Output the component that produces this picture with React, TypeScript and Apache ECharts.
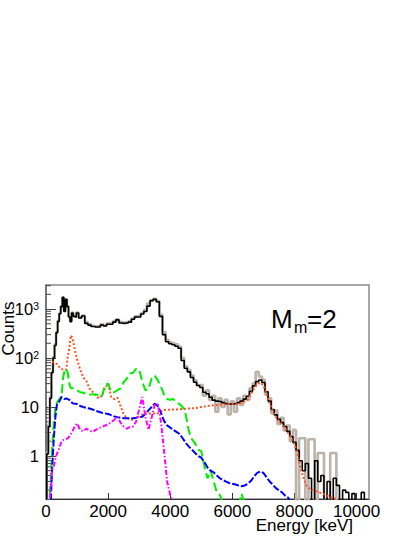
import React, { useEffect, useRef } from "react";
import * as echarts from "echarts";

// Energy bin centres [keV]
const energy = [
  0, 50, 100, 150, 200, 250, 300, 350, 400, 450, 500, 550, 600, 650, 700, 750, 800, 850, 900, 950, 1000,
  1100, 1200, 1300, 1400, 1500, 1600, 1700, 1800, 1900, 2000,
  2100, 2200, 2300, 2400, 2500, 2600, 2700, 2800, 2900, 3000,
  3100, 3200, 3300, 3400, 3500, 3600, 3700, 3800, 3900, 4000,
  4100, 4200, 4300, 4400, 4500, 4600, 4700, 4800, 4900, 5000,
  5100, 5200, 5300, 5400, 5500, 5600, 5700, 5800, 5900, 6000,
  6100, 6200, 6300, 6400, 6500, 6600, 6700, 6800, 6900, 7000,
  7100, 7200, 7300, 7400, 7500, 7600, 7700, 7800, 7900, 8000,
  8100, 8200, 8300, 8400, 8500, 8600, 8700, 8800, 8900, 9000,
  9100, 9200, 9300, 9400, 9500, 9600, 9700, 9800, 9900, 10000,
  10100, 10200, 10300, 10400,
];

// Measured spectrum (grey)
const dataCounts = [
  0.1, 1.2, 4.5, 16, 52, 105, 190, 340, 580, 830, 1150, 1700, 950, 1550, 1150, 720, 580, 850, 740, 700, 850,
  690, 740, 540, 490, 455, 445, 445, 490, 470, 510,
  510, 560, 620, 545, 530, 540, 560, 640, 710, 720,
  820, 960, 1300, 1520, 1620, 1450, 760, 340, 235, 210,
  200, 190, 172, 100, 68, 57, 44, 35, 28, 28,
  17, 22, 14, 17, 8, 15, 10, 14, 7, 13,
  8, 15, 11, 17, 14, 24, 30, 52, 42, 36,
  18, 15, 7.5, 8.5, 4.5, 6, 3.3, 4.2, 2, 3.4,
  0.1, 2.3, 2.3, 0.1, 2.2, 2.2, 0.1, 1.15, 1.15, 0.1,
  0.1, 1.15, 1.15, 0.1, 0.1, 0.1, 0.1, 0.1, 0.1, 0.1,
  0.1, 0.1, 0.1, 0.1,
];

// Total simulated spectrum (black)
const totalSim = [
  0.1, 1.1, 4, 15, 50, 100, 180, 330, 560, 800, 1120, 1740, 890, 1580, 1120, 690, 550, 830, 710, 690, 830,
  660, 720, 510, 470, 440, 430, 430, 470, 450, 490,
  490, 540, 600, 520, 510, 520, 540, 620, 690, 690,
  790, 890, 1150, 1480, 1580, 1410, 710, 300, 215, 195,
  186, 174, 158, 89, 62, 52, 40, 32, 27.5, 25,
  20, 18.6, 15.8, 13.8, 13.2, 12.9, 12.3, 11.7, 11.5, 11.5,
  11.7, 12.3, 13.2, 14.5, 16.6, 21, 27, 33, 35.5, 31.6,
  20.4, 13.2, 8.9, 6.9, 5.6, 4.8, 4.0, 3.2, 2.5, 1.9,
  1.3, 0.8, 0.5, 0.7, 0.35, 0.1, 0.8, 0.3, 0.4, 0.1,
  0.3, 0.1, 0.35, 0.25, 0.1, 0.2, 0.18, 0.1, 0.17, 0.1,
  0.1, 0.18, 0.1, 0.1,
];

// Component 1 (red, dotted)
const compRed = [
  null, null, null, null, 85, 80, 78, 75, 68, 63, 60, 58, 57, 58, 105, 160, 290, 260, 180, 130, 95,
  58, 40, 34, 24, 20.4, 17.4, 15, 17, 24, 30,
  16, 14.5, 15.5, 10.5, 7.2, 5.9, 5.9, 5.4, 6.2, 6.4,
  7, 7.4, 7.4, 7.4, 7.4, 7.4, 8, 8.7, 8.8, 8.8,
  8.9, 8.9, 9, 9.1, 9.2, 9.3, 9.4, 9.5, 9.7, 10,
  10.2, 10.4, 10.6, 10.8, 11, 11.1, 11.3, 11.4, 11.5, 11.6,
  11.7, 11.8, 12, 13, 14.5, 18.5, 24, 29, 31.5, 28,
  18.5, 12, 8, 6.3, 5.1, 4.4, 3.7, 2.9, 2.3, 1.7,
  1.1, 0.55, 0.35, 0.24, 0.21, 0.2, 0.19, 0.18, 0.17, 0.16,
  0.15, 0.14, 0.135, 0.1, 0.1, 0.1, 0.1, 0.1, 0.1, 0.1,
  0.1, 0.1, 0.1, 0.1,
];

// Component 2 (green, long dash)
const compGreen = [
  0.1, 0.1, 0.1, 0.3, 1.5, 4.5, 9, 12, 13.8, 15, 16, 40, 55, 60, 50, 30, 24, 24, 24, 23, 22,
  20, 19.5, 18.5, 18, 18, 18, 17.5, 16.5, 28, 30,
  20, 20, 22, 24, 32, 38, 48, 50, 60, 58,
  33, 22, 23, 38, 44, 35, 26, 18, 14.5, 14,
  14.5, 12.5, 11.5, 10, 7, 3.2, 2.2, 1.8, 1.35, 1.25,
  0.63, 0.35, 0.5, 0.3, 0.18, 0.16, 0.1, 0.1, 0.1, 0.1,
  0.1, 0.1, 0.17, 0.1, 0.1, 0.1, 0.1, 0.1, 0.1, 0.1,
  0.1, 0.1, 0.1, 0.1, 0.1, 0.1, 0.1, 0.1, 0.1, 0.1,
  0.1, 0.1, 0.1, 0.1, 0.1, 0.1, 0.1, 0.1, 0.1, 0.1,
  0.1, 0.1, 0.1, 0.1, 0.1, 0.1, 0.1, 0.1, 0.1, 0.1,
  0.1, 0.1, 0.1, 0.1,
];

// Component 3 (blue, dashed)
const compBlue = [
  0.1, 0.1, 0.1, 0.1, 0.6, 2.2, 6, 11, 12, 13.8, 16, 15.5, 14.5, 15, 14.5, 14, 13, 12, 11.7, 11.7, 11.5,
  10.5, 10, 9.6, 9.3, 8.9, 8.3, 8, 7.6, 7.4, 7.2,
  6.8, 6.4, 6.2, 6, 5.9, 5.9, 5.8, 5.9, 6, 6.2,
  6.3, 7.2, 8.5, 10, 11.7, 10.5, 7.6, 5.2, 4.2, 3.8,
  3.4, 3.1, 2.8, 2.3, 1.85, 1.55, 1.35, 1.15, 1, 0.92,
  0.75, 0.58, 0.5, 0.46, 0.4, 0.35, 0.32, 0.3, 0.28, 0.27,
  0.26, 0.25, 0.24, 0.25, 0.27, 0.31, 0.38, 0.45, 0.48, 0.45,
  0.37, 0.3, 0.26, 0.22, 0.2, 0.18, 0.155, 0.14, 0.1, 0.1,
  0.1, 0.1, 0.1, 0.1, 0.1, 0.1, 0.1, 0.1, 0.1, 0.1,
  0.1, 0.1, 0.1, 0.1, 0.1, 0.1, 0.1, 0.1, 0.1, 0.1,
  0.1, 0.1, 0.1, 0.1,
];

// Component 4 (magenta, dash-dot)
const compMagenta = [
  0.1, 0.1, 0.1, 0.2, 0.55, 0.62, 0.85, 1.1, 1.3, 1.6, 2, 2.1, 2.15, 2.2, 2.3, 2.5, 2.8, 3.2, 3.7, 4.2, 4.6,
  3.4, 3.2, 3.6, 3.3, 3.1, 3.4, 3.7, 3.9, 4.2, 4.4,
  4.9, 5.5, 6.2, 4.8, 4, 3.6, 3.9, 4, 5, 9,
  16, 6.3, 3.4, 6, 11, 11.5, 5, 1.3, 0.3, 0.16,
  0.1, 0.1, 0.1, 0.1, 0.1, 0.1, 0.1, 0.1, 0.1, 0.1,
  0.1, 0.1, 0.1, 0.1, 0.1, 0.1, 0.1, 0.1, 0.1, 0.1,
  0.1, 0.1, 0.1, 0.1, 0.1, 0.1, 0.1, 0.1, 0.1, 0.1,
  0.1, 0.1, 0.1, 0.1, 0.1, 0.1, 0.1, 0.1, 0.1, 0.1,
  0.1, 0.1, 0.1, 0.1, 0.1, 0.1, 0.1, 0.1, 0.1, 0.1,
  0.1, 0.1, 0.1, 0.1, 0.1, 0.1, 0.1, 0.1, 0.1, 0.1,
  0.1, 0.1, 0.1, 0.1,
];

// Log-axis minor tick values
const yMinorTicks = [
  0.2, 0.3, 0.4, 0.5, 0.6, 0.7, 0.8, 0.9,
  2, 3, 4, 5, 6, 7, 8, 9,
  20, 30, 40, 50, 60, 70, 80, 90,
  200, 300, 400, 500, 600, 700, 800, 900,
  2000, 3000,
];

const X_MIN = 0;
const X_MAX = 10400;
const X_INTERVAL = 2000;
const Y_MIN = 0.132;
const Y_MAX = 3100;

const FONT = "'Liberation Sans', Arial, Helvetica, sans-serif";

export default function App() {
  const ref = useRef<HTMLDivElement>(null);

  useEffect(() => {
    if (!ref.current) return;
    const chart = echarts.init(ref.current, null, { renderer: "svg" });
    const pairs = (vals: (number | null)[]) => energy.map((e, i) => [e, vals[i]]);

    const lineSeries = (
      name: string,
      vals: (number | null)[],
      color: string,
      width: number,
      type: any,
      step: any
    ) => ({
      name,
      type: "line",
      data: pairs(vals),
      showSymbol: false,
      symbol: "none",
      step,
      clip: true,
      silent: true,
      lineStyle: { color, width, type },
    });

    chart.setOption({
      animation: false,
      backgroundColor: "#ffffff",
      textStyle: { fontFamily: FONT },
      grid: {
        left: 46,
        right: 46,
        top: 285,
        bottom: 38,
        show: true,
        borderColor: "#8a8a8a",
        borderWidth: 1.5,
        backgroundColor: "transparent",
        outerBoundsMode: "none",
        containLabel: false,
      },
      xAxis: {
        type: "value",
        min: X_MIN,
        max: X_MAX,
        interval: X_INTERVAL,
        axisLine: { show: true, lineStyle: { color: "#333", width: 1.2 } },
        axisTick: { show: true, inside: true, length: 6, lineStyle: { color: "#333" } },
        axisLabel: {
          show: true,
          fontSize: 17,
          lineHeight: 12,
          color: "#000",
          fontFamily: FONT,
          margin: 6,
          showMaxLabel: false,
          formatter: (v: number) => String(Math.round(v)),
        },
        splitLine: { show: false },
      },
      yAxis: {
        type: "log",
        logBase: 10,
        min: Y_MIN,
        max: Y_MAX,
        axisLine: { show: true, lineStyle: { color: "#666", width: 1.5 } },
        axisTick: { show: true, inside: true, length: 10, lineStyle: { color: "#444" } },
        axisLabel: {
          show: true,
          fontSize: 16.5,
          color: "#000",
          fontFamily: FONT,
          margin: 7,
          showMinLabel: false,
          showMaxLabel: false,
          formatter: (v: number) => {
            const l = Math.log10(v);
            const e = Math.round(l);
            if (Math.abs(l - e) > 0.01) return "";
            if (e === 0) return "1";
            if (e === 1) return "10";
            return `{b|10}{s|${e}}`;
          },
          rich: {
            b: { fontSize: 16.5, fontFamily: FONT, color: "#000" },
            s: { fontSize: 10.5, fontFamily: FONT, color: "#000", verticalAlign: "top" },
          },
        },
        splitLine: { show: false },
      },
      series: [
        lineSeries("data", dataCounts, "#bbb3aa", 2.6, "solid", "middle"),
        lineSeries("sum", totalSim, "#000000", 1.6, "solid", "middle"),
        lineSeries("comp1", compRed, "#ff5020", 2, [2, 2], false),
        lineSeries("comp2", compGreen, "#00ee00", 2, [9, 4], false),
        lineSeries("comp3", compBlue, "#0000ff", 2, [7, 2], false),
        lineSeries("comp4", compMagenta, "#ff00ff", 2, [5, 2, 1.5, 2], false),
        {
          type: "custom",
          silent: true,
          clip: false,
          data: yMinorTicks.map((v) => [X_MIN, v]),
          renderItem: (params: any, api: any) => {
            const p = api.coord([X_MIN, api.value(1)]);
            return {
              type: "line",
              shape: { x1: p[0], y1: p[1], x2: p[0] + 5, y2: p[1] },
              style: { stroke: "#444", lineWidth: 1 },
            };
          },
        },
      ],
      graphic: [
        {
          type: "text",
          x: 8.5,
          y: 328.5,
          rotation: Math.PI / 2,
          style: {
            text: "Counts",
            fontSize: 17,
            fontFamily: FONT,
            fill: "#000",
            align: "center",
            verticalAlign: "middle",
          },
        },
        {
          type: "text",
          x: 353,
          y: 519,
          style: {
            text: "Energy [keV]",
            fontSize: 17,
            lineHeight: 12,
            fontFamily: FONT,
            fill: "#000",
            align: "right",
            verticalAlign: "top",
          },
        },
        {
          type: "text",
          x: 271,
          y: 305.5,
          style: { text: "M", fontSize: 26, fontFamily: FONT, fill: "#000", align: "left", verticalAlign: "top" },
        },
        {
          type: "text",
          x: 294,
          y: 319.5,
          style: { text: "m", fontSize: 16, fontFamily: FONT, fill: "#000", align: "left", verticalAlign: "top" },
        },
        {
          type: "text",
          x: 307,
          y: 305.5,
          style: { text: "=2", fontSize: 26, fontFamily: FONT, fill: "#000", align: "left", verticalAlign: "top" },
        },
      ],
    });

    return () => chart.dispose();
  }, []);

  return (
    <div
      ref={ref}
      style={{ position: "fixed", left: 0, top: 0, width: 415, height: 537, background: "#fff" }}
    />
  );
}
